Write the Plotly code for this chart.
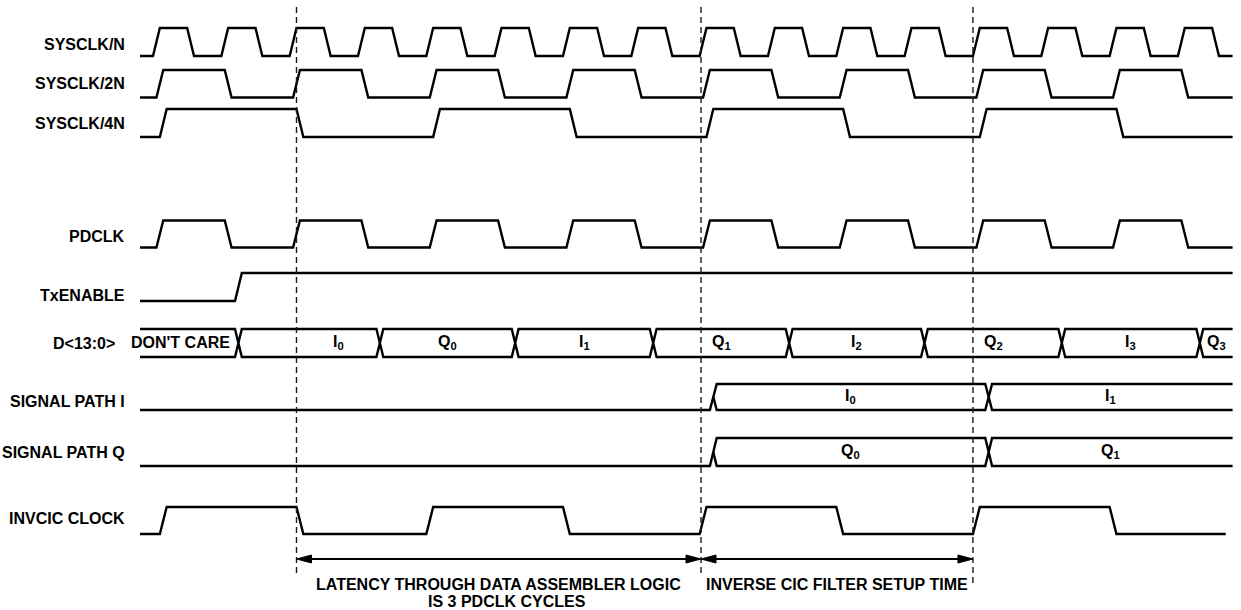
import plotly.graph_objects as go

# ---------------- data (time unit = one SYSCLK/N period) ----------------
t_start = -0.19
t_end = 15.8
t_end_invcic = 15.7

sysclk_n_edges = [0.0, 0.5, 1.0, 1.5, 2.0, 2.5, 3.0, 3.5, 4.0, 4.5, 5.0, 5.5,
                  6.0, 6.5, 7.0, 7.5, 8.0, 8.5, 9.0, 9.5, 10.0, 10.5, 11.0, 11.5,
                  12.0, 12.5, 13.0, 13.5, 14.0, 14.5, 15.0, 15.5]
sysclk_2n_edges = [0.05, 1.05, 2.05, 3.05, 4.05, 5.05, 6.05, 7.05,
                   8.05, 9.05, 10.05, 11.05, 12.05, 13.05, 14.05, 15.05]
sysclk_4n_edges = [0.1, 2.1, 4.1, 6.1, 8.1, 10.1, 12.1, 14.1]
pdclk_edges = [0.05, 1.05, 2.05, 3.05, 4.05, 5.05, 6.05, 7.05,
               8.05, 9.05, 10.05, 11.05, 12.05, 13.05, 14.05, 15.05]
txenable_edges = [1.2]
invcic_edges = [0.1, 2.1, 4.0, 6.0, 8.0, 10.0, 12.0, 14.0]

d_crossings = [1.25, 3.32, 5.3, 7.32, 9.31, 11.29, 13.3, 15.32]
d_labels = ["DON'T CARE", "I<sub>0</sub>", "Q<sub>0</sub>", "I<sub>1</sub>",
            "Q<sub>1</sub>", "I<sub>2</sub>", "Q<sub>2</sub>", "I<sub>3</sub>",
            "Q<sub>3</sub>"]

path_open = 8.2
path_crossings = [12.23]
path_i_labels = ["I<sub>0</sub>", "I<sub>1</sub>"]
path_q_labels = ["Q<sub>0</sub>", "Q<sub>1</sub>"]

markers_t = [2.1, 8.02, 12.0]          # dashed reference lines
spans = [(2.1, 8.02), (8.02, 12.0)]    # arrows between dashed lines
span_texts = [["LATENCY THROUGH DATA ASSEMBLER LOGIC", "IS 3 PDCLK CYCLES"],
              ["INVERSE CIC FILTER SETUP TIME"]]

# ---------------- layout (pixel geometry) ----------------
W, H = 1241, 610
X0, PX = 153.0, 68.33           # pixel of t=0, pixels per unit
rows = {   # name: (y_high, y_low, label_y)
    "SYSCLK/N": (28, 56, 44.5),
    "SYSCLK/2N": (70, 97.5, 83),
    "SYSCLK/4N": (109, 137, 123.5),
    "PDCLK": (220.5, 247.5, 236),
    "TxENABLE": (273, 301, 295),
    "D<13:0>": (329, 357, 343.5),
    "SIGNAL PATH I": (384, 410, 401),
    "SIGNAL PATH Q": (438, 466, 452.5),
    "INVCIC CLOCK": (507, 534, 518.5),
}
SLOPE = 0.1      # edge transition width (t units)
XH = 0.05        # half width of bus crossings
LW = 2.4
FONT = "Liberation Sans, Arial, sans-serif"
FS = 16

fig = go.Figure()


def add_line(xs, ys, width=LW, dash=None, color="black"):
    fig.add_trace(go.Scatter(x=xs, y=ys, mode="lines",
                             line=dict(color=color, width=width, dash=dash,
                                       shape="linear"),
                             hoverinfo="skip", showlegend=False))


def clock(name, edges, end=t_end, init=0):
    yh, yl, _ = rows[name]
    lvl = init
    xs, ys = [t_start], [yh if lvl else yl]
    for e in edges:
        xs += [e, e + SLOPE]
        ys += [yh if lvl else yl]
        lvl = 1 - lvl
        ys += [yh if lvl else yl]
    xs.append(end)
    ys.append(yh if lvl else yl)
    add_line(xs, ys)


for nm, ed in [("SYSCLK/N", sysclk_n_edges), ("SYSCLK/2N", sysclk_2n_edges),
               ("SYSCLK/4N", sysclk_4n_edges), ("PDCLK", pdclk_edges),
               ("TxENABLE", txenable_edges)]:
    clock(nm, ed)
clock("INVCIC CLOCK", invcic_edges, end=t_end_invcic)

# D bus
yh, yl, _ = rows["D<13:0>"]
ym = (yh + yl) / 2
for yy in (yh, yl):
    xs, ys = [t_start], [yy]
    for c in d_crossings:
        xs += [c - XH, c, c + XH]
        ys += [yy, ym, yy]
    xs.append(t_end)
    ys.append(yy)
    add_line(xs, ys)

# signal path buses
for nm in ("SIGNAL PATH I", "SIGNAL PATH Q"):
    yh, yl, _ = rows[nm]
    ym = (yh + yl) / 2
    xs = [t_start, path_open - XH, path_open + XH]
    ys = [yl, yl, yh]
    for c in path_crossings:
        xs += [c - XH, c, c + XH]
        ys += [yh, ym, yh]
    xs.append(t_end)
    ys.append(yh)
    add_line(xs, ys)
    xs = [path_open, path_open + XH]
    ys = [ym, yl]
    for c in path_crossings:
        xs += [c - XH, c, c + XH]
        ys += [yl, ym, yl]
    xs.append(t_end)
    ys.append(yl)
    add_line(xs, ys)

# dashed reference lines
dash_bottoms = [573, 573, 583]
for m, yb in zip(markers_t, dash_bottoms):
    add_line([m, m], [7, yb], width=1.4, dash="6px,4px", color="#1a1a1a")

# arrows
AY = 559
AL = 15 / PX
AW = 4
for a, b in spans:
    add_line([a + AL * 0.5, b - AL * 0.5], [AY, AY], width=2.0)
    for tip, base in ((a, a + AL), (b, b - AL)):
        fig.add_trace(go.Scatter(x=[tip, base, base, tip], y=[AY, AY - AW, AY + AW, AY],
                                 mode="lines", fill="toself", fillcolor="black",
                                 line=dict(color="black", width=1),
                                 hoverinfo="skip", showlegend=False))

ann = []


def text(x, y, s, xanchor="center", xshift=0):
    ann.append(dict(x=x, y=y, xref="x", yref="y", text="<b>" + s + "</b>",
                    showarrow=False, xanchor=xanchor, yanchor="middle",
                    xshift=xshift,
                    font=dict(family=FONT, size=FS, color="black")))


# row labels
label_edge = (127 - X0) / PX
for nm, (yh_, yl_, ly) in rows.items():
    lx = label_edge if nm != "D<13:0>" else (117 - X0) / PX
    text(lx, ly, nm.replace("<", "&lt;").replace(">", "&gt;"), xanchor="right")

# D bus labels
yh, yl, _ = rows["D<13:0>"]
bounds = [t_start] + d_crossings + [t_end]
for i, lab in enumerate(d_labels):
    a, b = bounds[i], bounds[i + 1]
    if i == 0:
        text(b - XH, (yh + yl) / 2 - 1, lab, xanchor="right", xshift=-3)
        continue
    if a < markers_t[0] < b:
        a = markers_t[0]
    text((a + b) / 2, (yh + yl) / 2 - 1, lab)

for nm, labs in (("SIGNAL PATH I", path_i_labels), ("SIGNAL PATH Q", path_q_labels)):
    yh, yl, _ = rows[nm]
    bnd = [path_open] + path_crossings + [t_end]
    for i, lab in enumerate(labs):
        text((bnd[i] + bnd[i + 1]) / 2, (yh + yl) / 2 - 1, lab)

# span texts
for (a, b), lines in zip(spans, span_texts):
    for k, ln in enumerate(lines):
        text((a + b) / 2, 584 + 17 * k, ln, xshift=8 * k)

fig.update_layout(
    width=W, height=H,
    margin=dict(l=0, r=0, t=0, b=0),
    paper_bgcolor="white", plot_bgcolor="white",
    xaxis=dict(range=[-X0 / PX, (W - X0) / PX], visible=False, fixedrange=True),
    yaxis=dict(range=[H, 0], visible=False, fixedrange=True),
    annotations=ann,
    showlegend=False,
)

fig.write_html("out.html",
               config={"displayModeBar": False, "staticPlot": True},
               post_script="document.body.style.margin='0';"
                           "document.body.style.overflow='hidden';")
